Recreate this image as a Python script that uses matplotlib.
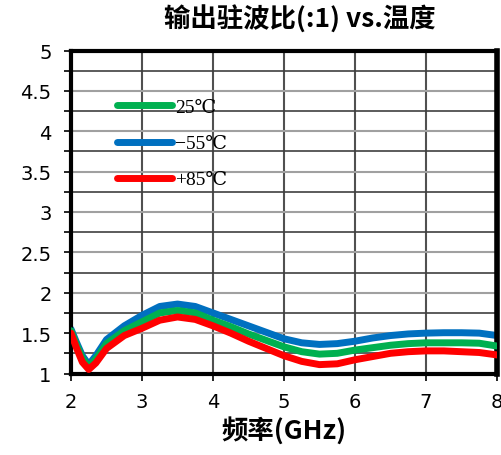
import numpy as np
import matplotlib.pyplot as plt
from matplotlib.ticker import MultipleLocator, FuncFormatter
import matplotlib.transforms as mtransforms

# 频率点 (GHz)
freq = [2.0, 2.08, 2.16, 2.25, 2.35, 2.5, 2.75, 3.0, 3.25, 3.5, 3.75, 4.0, 4.25,
        4.5, 4.75, 5.0, 5.25, 5.5, 5.75, 6.0, 6.25, 6.5, 6.75, 7.0, 7.25, 7.5,
        7.75, 8.0]
# 各温度下的驻波比
vswr_m55 = [1.55, 1.38, 1.22, 1.11, 1.22, 1.42, 1.59, 1.72, 1.83, 1.86, 1.83, 1.75,
            1.67, 1.59, 1.51, 1.43, 1.38, 1.36, 1.37, 1.40, 1.44, 1.47, 1.49, 1.50,
            1.505, 1.505, 1.50, 1.47]
vswr_25 = [1.53, 1.35, 1.19, 1.08, 1.18, 1.37, 1.53, 1.64, 1.75, 1.78, 1.75, 1.66,
           1.58, 1.49, 1.41, 1.33, 1.27, 1.24, 1.25, 1.29, 1.32, 1.35, 1.37, 1.38,
           1.38, 1.38, 1.375, 1.34]
vswr_p85 = [1.50, 1.31, 1.14, 1.05, 1.13, 1.31, 1.47, 1.56, 1.66, 1.70, 1.67, 1.59,
            1.50, 1.40, 1.31, 1.22, 1.15, 1.11, 1.12, 1.17, 1.21, 1.25, 1.27, 1.28,
            1.28, 1.27, 1.26, 1.23]

plt.rcParams['font.family'] = ['DejaVu Sans']
cjk = ['Noto Sans CJK SC', 'DejaVu Sans']

fig = plt.figure(figsize=(5.02, 4.56), dpi=100)
ax = fig.add_axes([71 / 502, 81.5 / 456, 426 / 502, 323 / 456])

ax.plot(freq, vswr_25, color='#00b050', lw=5, solid_capstyle='round',
        solid_joinstyle='round', label='25℃', zorder=3)
ax.plot(freq, vswr_m55, color='#0070c0', lw=5, solid_capstyle='round',
        solid_joinstyle='round', label='−55℃', zorder=2)
ax.plot(freq, vswr_p85, color='#ff0000', lw=5, solid_capstyle='round',
        solid_joinstyle='round', label='+85℃', zorder=4)

ax.set_xlim(2, 8)
ax.set_ylim(1, 5)
ax.xaxis.set_major_locator(MultipleLocator(1))
ax.yaxis.set_major_locator(MultipleLocator(0.5))
ax.yaxis.set_minor_locator(MultipleLocator(0.25))
ax.yaxis.set_major_formatter(FuncFormatter(lambda v, p: '%g' % v))

ax.grid(True, which='major', axis='y', color='#a0a0a0', lw=1.5)
ax.grid(True, which='minor', axis='y', color='#404040', lw=1.2)
ax.grid(True, which='major', axis='x', color='#505050', lw=1.5)
ax.set_axisbelow(True)

for s in ax.spines.values():
    s.set_linewidth(3)
    s.set_color('black')
ax.spines['right'].set_linewidth(4)

ax.tick_params(axis='both', which='major', direction='out', length=5, width=1.2,
               labelsize=14)
ax.tick_params(axis='y', which='minor', direction='out', length=5, width=1.2)
ax.tick_params(axis='y', pad=9)
ax.tick_params(axis='x', pad=8)

# 最右侧刻度标签稍向左移，避免被裁切
fig.canvas.draw()
last = ax.get_xticklabels()[-1]
last.set_transform(last.get_transform() + mtransforms.ScaledTranslation(-3 / 100, 0, fig.dpi_scale_trans))

fig.text(300 / 502, 1 - 20 / 456, '输出驻波比(:1) vs.温度', family=cjk, fontsize=19,
         fontweight='heavy', ha='center', va='center')
ax.set_xlabel('频率(GHz)', family=cjk, fontsize=19, fontweight='heavy', labelpad=4)

leg = ax.legend(loc='upper left', bbox_to_anchor=(0.068, 0.905), frameon=False,
                handlelength=2.8, handletextpad=0.15, labelspacing=0.95,
                prop={'family': ['Liberation Serif', 'DejaVu Serif'], 'size': 14})

fig.savefig('out.png', dpi=100)
